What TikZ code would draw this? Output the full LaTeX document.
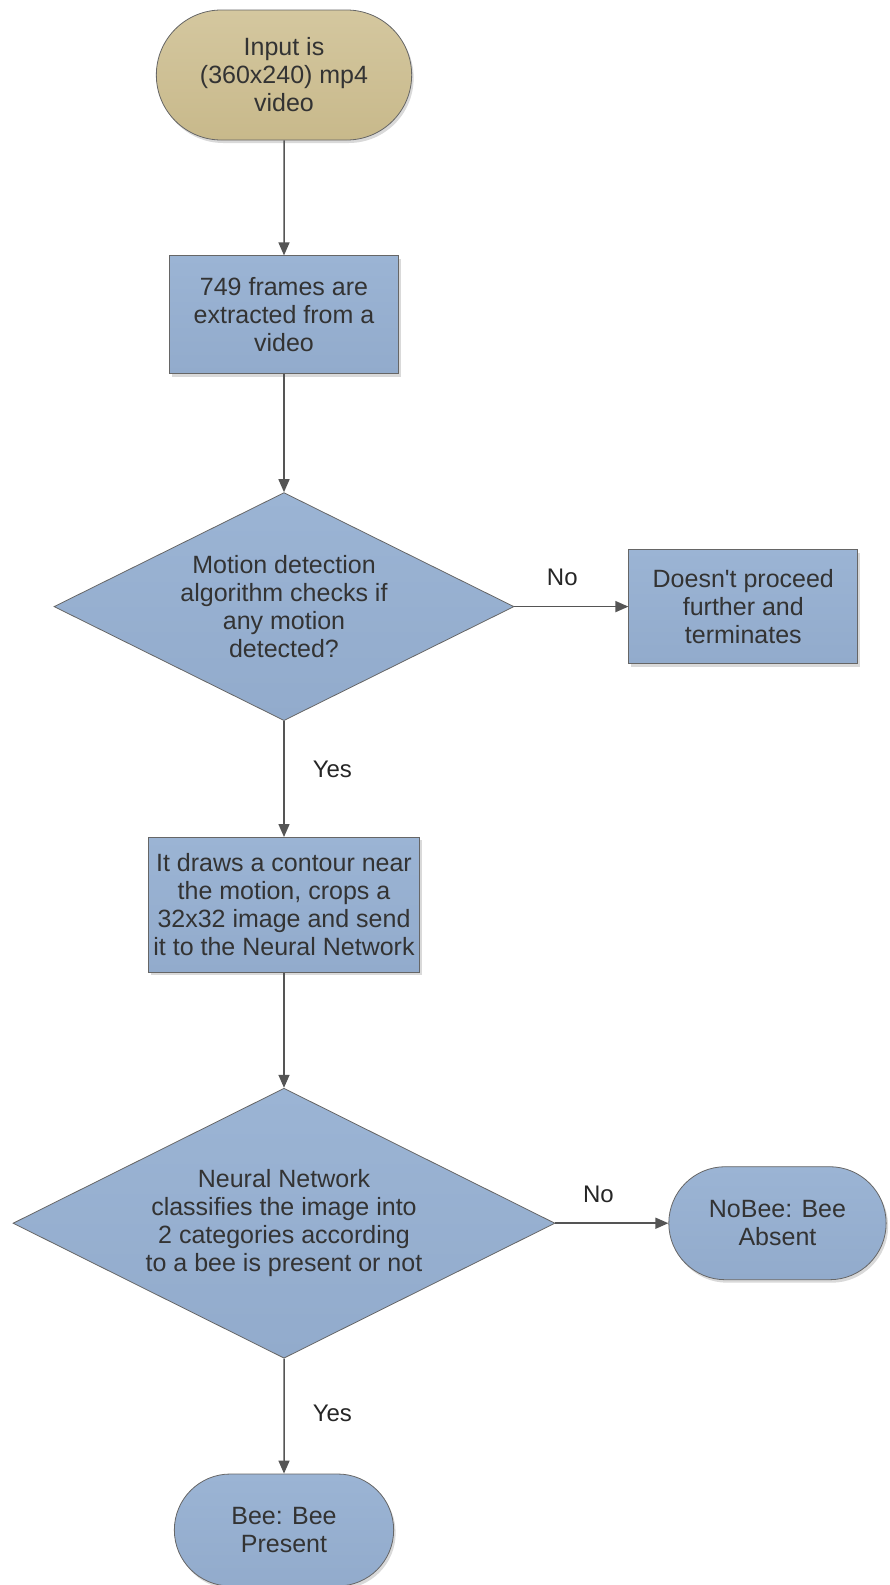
\documentclass[tikz,border=0pt]{standalone}
\usepackage{fontspec}
\setmainfont{Liberation Sans}[Ligatures=TeXOff]
\usepackage{tikz}
\usetikzlibrary{
  shapes.geometric, shapes.misc, arrows.meta, positioning, shadows
}
\definecolor{boxtop}{HTML}{9BB4D4}
\definecolor{boxbottom}{HTML}{92ABCC}
\definecolor{inputtop}{HTML}{D4C79F}
\definecolor{inputbottom}{HTML}{C8B98B}
\definecolor{edgegray}{HTML}{666666}
\definecolor{arrowgray}{HTML}{555555}
\definecolor{textgray}{HTML}{333333}
\tikzset{
  % Start / end capsules
  terminal/.style={
    rounded rectangle, minimum width=226pt, minimum height=112pt,
    draw=edgegray, top color=#1top, bottom color=#1bottom, text=textgray,
    drop shadow={shadow xshift=2pt, shadow yshift=-3pt, opacity=0.3},
    font=\fontsize{25}{28}\selectfont, align=center, line width=0.8pt,
  },
  terminal/.default={box},
  % Process steps
  process/.style={
    rectangle, minimum width=229pt, minimum height=118pt, inner sep=3pt,
    draw=edgegray, top color=boxtop, bottom color=boxbottom, text=textgray,
    drop shadow={shadow xshift=2pt, shadow yshift=-3pt, opacity=0.3},
    font=\fontsize{25}{28}\selectfont, align=center, line width=0.8pt,
  },
  % Questions
  decision/.style={
    diamond, aspect=2, inner sep=0pt,
    draw=edgegray, top color=boxtop, bottom color=boxbottom, text=textgray,
    font=\fontsize{25}{28}\selectfont, align=center, line width=0.8pt,
  },
  % Arrows
  flowarrow/.style={-{Triangle[length=13pt, width=11pt]}, line width=1.5pt, arrowgray},
  % Labels on arrows
  edgelabel/.style={font=\fontsize{24}{26}\selectfont, text=black!85, inner sep=0pt},
}
\begin{document}
\begin{tikzpicture}[x=1pt, y=-1pt, node distance=115pt and 114pt]

  \useasboundingbox (0,0) rectangle (889,1585);

  % Input video
  \node[terminal=input, minimum width=262pt, minimum height=130pt] (video) at (284,75)
    {Input is\\(360x240) mp4\\video};

  % Frame extraction
  \node[process, below=of video] (frames) {749 frames are\\extracted from a\\video};

  % Motion check
  \node[decision, below=118pt of frames, minimum width=460pt, minimum height=228pt] (motion)
    {Motion detection\\algorithm checks if\\any motion\\detected?};
  \node[process, right=of motion, minimum height=114pt] (stop)
    {Doesn't proceed\\further and\\terminates};

  % Cropping
  \node[process, below=116pt of motion, minimum width=271pt, minimum height=135pt] (crop)
    {It draws a contour near\\the motion, crops a\\32x32 image and send\\it to the Neural Network};

  % Classification
  \node[decision, below=of crop, minimum width=542pt, minimum height=270pt] (classify)
    {Neural Network\\classifies the image into\\2 categories according\\to a bee is present or not};
  \node[terminal, right=113pt of classify, minimum width=224pt, minimum height=113pt] (nobee)
    {NoBee: Bee\\Absent};
  \node[terminal, below=of classify] (bee) {Bee: Bee\\Present};

  % Arrows
  \draw[flowarrow] (video) -- (frames);
  \draw[flowarrow] (frames) -- (motion);
  \draw[flowarrow] (motion) -- node[edgelabel, pos=0.42, above=20pt] {No} (stop);
  \draw[flowarrow] (motion) -- node[edgelabel, pos=0.42, right=28pt] {Yes} (crop);
  \draw[flowarrow] (crop) -- (classify);
  \draw[flowarrow] (classify) -- node[edgelabel, pos=0.38, above=20pt] {No} (nobee);
  \draw[flowarrow] (classify) -- node[edgelabel, pos=0.48, right=28pt] {Yes} (bee);

\end{tikzpicture}
\end{document}
